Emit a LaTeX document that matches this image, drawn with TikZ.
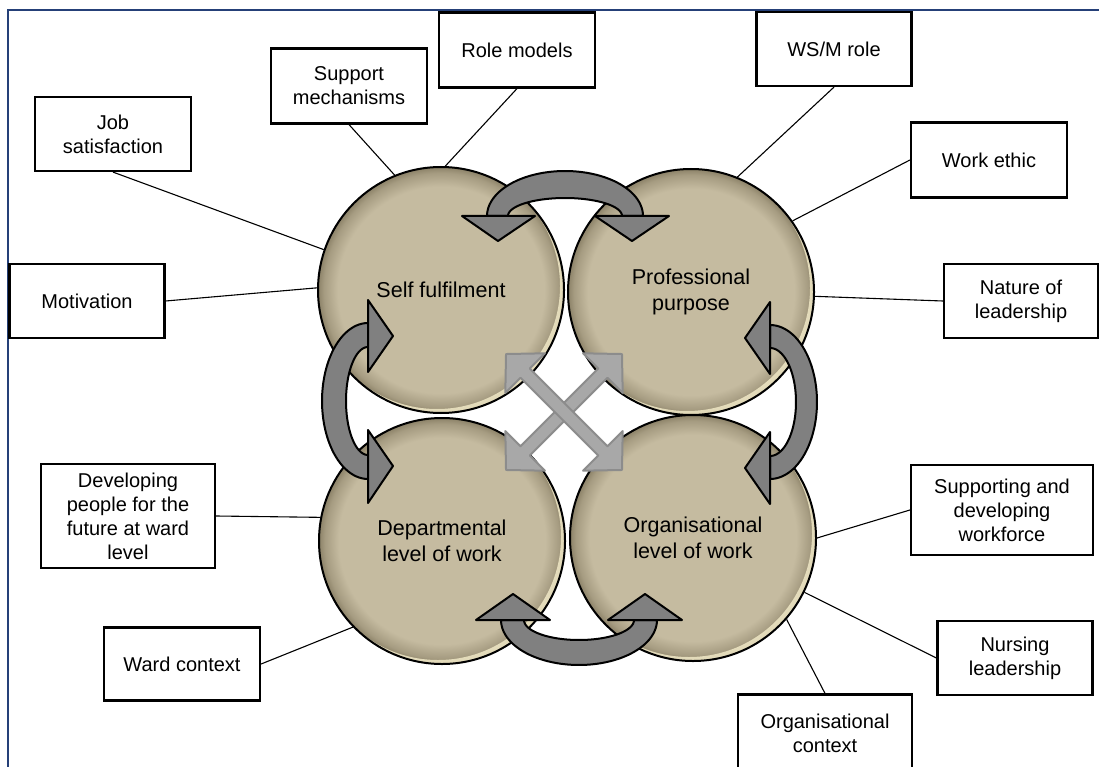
\documentclass[tikz,border=0pt]{standalone}
\usepackage{fontspec}
\setmainfont{Liberation Sans}
\definecolor{tanbase}{RGB}{197,187,160}
\definecolor{tandark}{RGB}{140,130,104}
\definecolor{tanlight}{RGB}{240,232,198}
\definecolor{framecol}{RGB}{37,64,120}
\definecolor{arrowgray}{RGB}{128,128,128}
\definecolor{crossfill}{RGB}{168,168,168}
\definecolor{crossline}{RGB}{140,140,140}
\pgfdeclareradialshading{bevel}{\pgfpoint{0bp}{0bp}}{color(0bp)=(tanbase); color(21bp)=(tanbase); color(23.8bp)=(tandark!55!tanbase); color(25bp)=(tandark)}
\tikzset{
 circ/.style={circle, minimum size=246pt, inner sep=0pt, draw=black, line width=2pt, shade, shading=bevel, align=center, font=\fontsize{21.5}{26}\selectfont,
   path picture={\fill[tanlight, fill opacity=0.85, even odd rule] (path picture bounding box.center) circle (123pt) ([shift={(-4pt,4pt)}]path picture bounding box.center) circle (123pt);}},
 lbox/.style={draw=black, line width=2.2pt, fill=white, inner sep=0pt, align=center, font=\fontsize{20}{24}\selectfont},
 conn/.style={draw=black, line width=1.1pt},
 uarrow/.style={fill=arrowgray, draw=black, line width=2pt, line join=round},
 xarrow/.style={fill=crossfill, draw=crossline, line width=2pt, line join=round}
}
\begin{document}
\begin{tikzpicture}[x=1pt, y=-1pt]
\path[use as bounding box, clip] (0,0) rectangle (1099,767);
\fill[white] (0,0) rectangle (1099,767);
\draw[framecol, line width=1.6pt] (8,770) -- (8,10) -- (1102,10);

% circles
\node[circ] (TL) at (441,290) {Self fulfilment};
\node[circ] (TR) at (691,292) {Professional\\purpose};
\node[circ] (BL) at (442,541) {Departmental\\level of work};
\node[circ] (BR) at (693,538) {Organisational\\level of work};

% curved arrows
\path[uarrow] plot[domain=180:0, samples=50] ({565+78*cos(\x)},{216-45*sin(\x)}) -- plot[domain=0:180, samples=50] ({565+57*cos(\x)},{216-18*sin(\x)}) -- cycle;
\path[uarrow] (462,216) -- (535,216) -- (498,241) -- cycle;
\path[uarrow] (595,216) -- (669,216) -- (632,241) -- cycle;

\path[uarrow] plot[domain=0:180, samples=50] ({368-46*sin(\x)},{401-78*cos(\x)}) -- plot[domain=180:0, samples=50] ({368-22*sin(\x)},{401-54*cos(\x)}) -- cycle;
\path[uarrow] (368,300) -- (368,372) -- (393,336) -- cycle;
\path[uarrow] (368,430) -- (368,503) -- (393,466) -- cycle;

\path[uarrow] plot[domain=0:180, samples=50] ({770+47*sin(\x)},{402-77*cos(\x)}) -- plot[domain=180:0, samples=50] ({770+26*sin(\x)},{402-54*cos(\x)}) -- cycle;
\path[uarrow] (770,302) -- (770,374) -- (745,338) -- cycle;
\path[uarrow] (770,432) -- (770,504) -- (745,468) -- cycle;

\path[uarrow] plot[domain=180:0, samples=50] ({579+78*cos(\x)},{620+45*sin(\x)}) -- plot[domain=0:180, samples=50] ({579+55*cos(\x)},{620+20*sin(\x)}) -- cycle;
\path[uarrow] (476,620) -- (550,620) -- (513,594) -- cycle;
\path[uarrow] (608,620) -- (682,620) -- (645,594) -- cycle;

% central cross
\begin{scope}[shift={(564,412)}, rotate=45]
\path[xarrow] (82,0) -- (55,28) -- (55,6.5) -- (-55,6.5) -- (-55,28) -- (-82,0) -- (-55,-28) -- (-55,-6.5) -- (55,-6.5) -- (55,-28) -- cycle;
\end{scope}
\begin{scope}[shift={(564,412)}, rotate=-45]
\path[xarrow] (82,0) -- (55,28) -- (55,6.5) -- (-55,6.5) -- (-55,28) -- (-82,0) -- (-55,-28) -- (-55,-6.5) -- (55,-6.5) -- (55,-28) -- cycle;
\end{scope}

% boxes
\node[lbox, minimum width=156pt, minimum height=74pt] (job) at (113,134) {Job\\satisfaction};
\node[lbox, minimum width=156pt, minimum height=75pt] (supp) at (349,86) {Support\\mechanisms};
\node[lbox, minimum width=156pt, minimum height=75pt] (role) at (517,50) {Role models};
\node[lbox, minimum width=155pt, minimum height=74pt] (wsm) at (834,49) {WS/M role};
\node[lbox, minimum width=156pt, minimum height=75pt] (work) at (989,160) {Work ethic};
\node[lbox, minimum width=154pt, minimum height=74pt] (nature) at (1021,301) {Nature of\\leadership};
\node[lbox, minimum width=182pt, minimum height=90pt] (supdev) at (1002,510) {Supporting and\\developing\\workforce};
\node[lbox, minimum width=155pt, minimum height=74pt] (nurs) at (1015,658) {Nursing\\leadership};
\node[lbox, minimum width=174pt, minimum height=77pt] (orgc) at (825,733) {Organisational\\context};
\node[lbox, minimum width=156pt, minimum height=73pt] (ward) at (182,664) {Ward context};
\node[lbox, minimum width=174pt, minimum height=104pt] (dev) at (128,516) {Developing\\people for the\\future at ward\\level};
\node[lbox, minimum width=155pt, minimum height=74pt] (mot) at (87,301) {Motivation};

% connectors
\draw[conn] (job.south) -- (TL.161);
\draw[conn] (supp.south) -- (TL.112);
\draw[conn] (role.south) -- (TL.88);
\draw[conn] (wsm.south) -- (TR.68);
\draw[conn] (work.west) -- (TR.35);
\draw[conn] (nature.west) -- (TR.-2);
\draw[conn] (supdev.west) -- (BR.0);
\draw[conn] (nurs.west) -- (BR.-26);
\draw[conn] (orgc.north) -- (BR.-41);
\draw[conn] (ward.east) -- (BL.224);
\draw[conn] (dev.east) -- (BL.169);
\draw[conn] (mot.east) -- (TL.179);
\end{tikzpicture}
\end{document}
